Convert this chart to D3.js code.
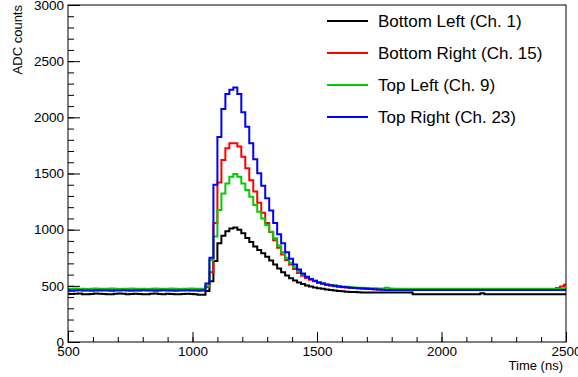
<!DOCTYPE html>
<html>
<head>
<meta charset="utf-8">
<script src="https://cdn.jsdelivr.net/npm/d3@7"></script>
<style>
  body { margin: 0; background: #fff; }
  text { font-family: "Liberation Sans", Arial, sans-serif; }
</style>
</head>
<body>
<div id="container"></div>
<script>
/* DATA */
// histogram bins: 16 ns wide, first edge at 492 ns
const binStart = 492;
const binWidth = 16;

const seriesNames = ["Bottom Left (Ch. 1)", "Bottom Right (Ch. 15)", "Top Left (Ch. 9)", "Top Right (Ch. 23)"];

const bottomLeft = [
  430, 428, 430, 432, 426, 424, 428, 432, 430, 428, 424, 426, 430, 432, 430, 426, 428, 430, 428, 424,
  426, 430, 432, 428, 426, 430, 428, 424, 426, 428, 430, 428, 424, 420, 420,
  455, 540, 720, 880, 945, 985, 1010, 1020, 1000, 967, 925, 890, 850, 820, 790, 760, 725, 690, 655, 620,
  592, 568, 548, 530, 516, 504, 494, 486, 479, 473, 467, 462, 458, 454, 451, 448, 446, 444, 442, 441,
  440, 440, 440, 440, 440, 440, 440, 440, 440, 440, 440, 440,
  425, 425, 425, 425, 425, 425, 425, 425, 425, 425, 425, 425, 425, 425, 425, 425, 425,
  433,
  425, 425, 425, 425, 425, 425, 425, 425, 425, 425, 425, 425, 425, 425, 425, 425, 425, 425, 425, 425, 425
];

const bottomRight = [
  462, 460, 462, 462, 460, 462, 464, 462, 460, 462, 462, 460, 462, 464, 462, 460, 462, 462, 460, 462,
  462, 464, 462, 460, 462, 462, 460, 462, 462, 464, 462, 460, 462, 462, 462,
  490, 620, 1060, 1420, 1620, 1724, 1769, 1769, 1740, 1650, 1546, 1440, 1340, 1240, 1150, 1060, 980, 905, 840, 780,
  730, 690, 650, 615, 590, 570, 555, 540, 528, 518, 510, 503, 497, 492, 488, 485, 482, 480, 478, 476,
  474, 472, 470, 468, 467,
  466, 466, 466, 466, 466, 466, 466, 466, 466, 466, 466, 466, 466, 466, 466, 466, 466, 466, 466, 466,
  466, 466, 466, 466, 466, 466, 466, 466, 466, 466, 466, 466, 466, 466, 466, 466, 466, 466, 466, 466,
  466, 466, 466,
  480, 495, 510
];

const topLeft = [
  474, 474, 476, 474, 474, 472, 474, 476, 474, 474, 474, 476, 474, 472, 474, 474, 476, 474, 474, 474,
  472, 474, 476, 474, 474, 474, 476, 474, 472, 474, 474, 476, 474, 474, 474,
  500, 730, 940, 1175, 1323, 1412, 1471, 1495, 1471, 1412, 1353, 1294, 1220, 1160, 1100, 1042, 982, 923, 860, 800,
  750, 705, 665, 630, 600, 578, 560, 545, 533, 523, 515, 508, 502, 498, 494, 491, 488, 486, 484, 482,
  480, 479, 478, 477, 476,
  484, 476,
  475, 475, 475, 475, 475, 475, 475, 475, 475, 475, 475, 475, 475, 475, 475, 475, 475, 475, 475, 475,
  475, 475, 475, 475, 475, 475, 475, 475, 475, 475, 475, 475, 475, 475, 475, 475, 475, 475, 475, 475,
  475, 475, 475, 475
];

const topRight = [
  458, 456, 458, 460, 458, 458, 456, 458, 460, 458, 458, 456, 458, 458, 460, 458, 456, 458, 458, 460,
  458, 458, 456, 458, 460, 458, 458, 456, 458, 458, 460, 458, 458, 456, 458,
  520, 750, 1400, 1825, 2074, 2208, 2245, 2265, 2208, 2045, 1917, 1769, 1626, 1502, 1390, 1280, 1170, 1060, 960, 880,
  800, 740, 690, 645, 610, 580, 560, 545, 530, 520, 510, 505, 500, 495, 490, 487, 484, 481, 478, 476,
  474, 472, 470, 468, 466,
  464, 464, 464, 464, 464, 464, 464, 464, 464, 464, 464, 464, 464, 464, 464, 464, 464, 464, 464, 464,
  464, 464, 464, 464, 464, 464, 464, 464, 464, 464, 464, 464, 464, 464, 464, 464, 464, 464, 464, 464,
  464, 464, 464, 464, 464, 464
];

const xMajorTicks = [500, 1000, 1500, 2000, 2500];
const yMajorTicks = [0, 500, 1000, 1500, 2000, 2500, 3000];

/* CONSTANTS AND GLOBALS */
const width = 578;
const height = 377;
const margin = { left: 68, right: 12, top: 5, bottom: 35 };
const colors = ["#000000", "#ff0000", "#00cc00", "#0000ff"];
const seriesValues = [bottomLeft, bottomRight, topLeft, topRight];

/* SCALES */
const xScale = d3.scaleLinear()
  .domain([500, 2500])
  .range([margin.left, width - margin.right]);

const yScale = d3.scaleLinear()
  .domain([0, 3000])
  .range([height - margin.bottom, margin.top]);

/* SVG */
const svg = d3.select("#container")
  .append("svg")
  .attr("width", width)
  .attr("height", height);

svg.append("defs").append("clipPath")
  .attr("id", "plot-clip")
  .append("rect")
  .attr("x", margin.left)
  .attr("y", margin.top)
  .attr("width", width - margin.left - margin.right)
  .attr("height", height - margin.top - margin.bottom);

// histograms as step lines
const line = d3.line()
  .x(d => xScale(d[0]))
  .y(d => yScale(d[1]))
  .curve(d3.curveStepAfter);

const histPoints = vals => {
  const pts = vals.map((v, i) => [binStart + i * binWidth, v]);
  pts.push([binStart + vals.length * binWidth, vals[vals.length - 1]]);
  return pts;
};

svg.append("g")
  .attr("clip-path", "url(#plot-clip)")
  .selectAll("path")
  .data(seriesValues)
  .join("path")
  .attr("d", d => line(histPoints(d)))
  .attr("fill", "none")
  .attr("stroke", (d, i) => colors[i])
  .attr("stroke-width", 2);

/* AXES */
const yMinor = d3.axisLeft(yScale)
  .tickValues(d3.range(0, 3001, 100))
  .tickSize(-6)
  .tickFormat("");
svg.append("g")
  .attr("transform", `translate(${margin.left},0)`)
  .call(yMinor)
  .call(g => g.select(".domain").remove());

const yAxis = d3.axisLeft(yScale)
  .tickValues(yMajorTicks)
  .tickSize(-12)
  .tickPadding(4)
  .tickFormat(d3.format("d"));
svg.append("g")
  .attr("transform", `translate(${margin.left},0)`)
  .call(yAxis)
  .call(g => g.select(".domain").remove())
  .call(g => g.selectAll("text").attr("font-size", 13.5).attr("fill", "#000"));

const xMinor = d3.axisBottom(xScale)
  .tickValues(d3.range(500, 2501, 100))
  .tickSize(-5)
  .tickFormat("");
svg.append("g")
  .attr("transform", `translate(0,${height - margin.bottom})`)
  .call(xMinor)
  .call(g => g.select(".domain").remove());

const xAxis = d3.axisBottom(xScale)
  .tickValues(xMajorTicks)
  .tickSize(-10)
  .tickPadding(4)
  .tickFormat(d3.format("d"));
svg.append("g")
  .attr("transform", `translate(0,${height - margin.bottom})`)
  .call(xAxis)
  .call(g => g.select(".domain").remove())
  .call(g => g.selectAll("text").attr("font-size", 13.5).attr("fill", "#000"));

// frame
svg.append("rect")
  .attr("x", margin.left)
  .attr("y", margin.top)
  .attr("width", width - margin.left - margin.right)
  .attr("height", height - margin.top - margin.bottom)
  .attr("fill", "none")
  .attr("stroke", "#000")
  .attr("stroke-width", 1);

// axis titles
svg.append("text")
  .attr("x", width - margin.right - 3)
  .attr("y", 370)
  .attr("text-anchor", "end")
  .attr("font-size", 13)
  .text("Time (ns)");

svg.append("text")
  .attr("transform", "translate(22,5) rotate(-90)")
  .attr("text-anchor", "end")
  .attr("font-size", 13)
  .text("ADC counts");

/* LEGEND */
const legend = svg.append("g")
  .selectAll("g")
  .data(seriesNames)
  .join("g")
  .attr("transform", (d, i) => `translate(327,${21 + i * 32})`);

legend.append("line")
  .attr("x1", 0)
  .attr("x2", 41)
  .attr("stroke", (d, i) => colors[i])
  .attr("stroke-width", 2);

legend.append("text")
  .attr("x", 51)
  .attr("dy", "0.36em")
  .attr("font-size", 17)
  .text(d => d);
</script>
</body>
</html>
